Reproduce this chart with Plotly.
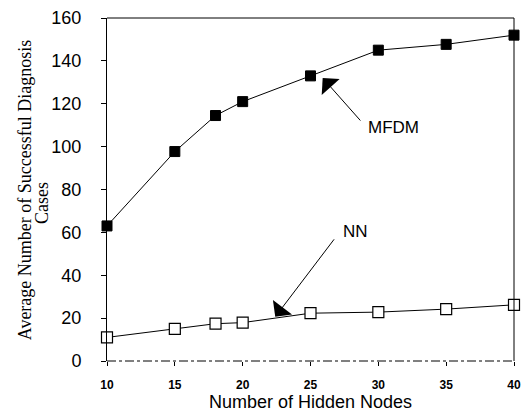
import plotly.graph_objects as go

hidden_nodes = [10, 15, 18, 20, 25, 30, 35, 40]
mfdm = [63, 97.7, 114.5, 121, 133, 145, 147.7, 152]
nn = [11, 15, 17.4, 17.9, 22.3, 22.8, 24.2, 26.2]
x_ticks = [10, 15, 20, 25, 30, 35, 40]
y_ticks = [0, 20, 40, 60, 80, 100, 120, 140, 160]

fig = go.Figure()
fig.add_trace(go.Scatter(
    x=hidden_nodes, y=mfdm, mode="lines+markers", name="MFDM",
    line=dict(color="black", width=1),
    marker=dict(symbol="square", size=10, color="black", line=dict(color="black", width=1)),
    cliponaxis=False,
))
fig.add_trace(go.Scatter(
    x=hidden_nodes, y=nn, mode="lines+markers", name="NN",
    line=dict(color="black", width=1),
    marker=dict(symbol="square", size=11, color="white", line=dict(color="black", width=1.2)),
    cliponaxis=False,
))

fig.update_layout(
    width=523, height=420, autosize=False,
    margin=dict(l=107, r=9, t=18, b=59),
    paper_bgcolor="white", plot_bgcolor="white",
    showlegend=False,
    font=dict(family="Liberation Sans, Arial", color="black"),
    xaxis=dict(
        range=[10, 40], tickvals=x_ticks, ticktext=[str(v) for v in x_ticks],
        automargin=False,
        showgrid=False, zeroline=False, showline=False,
        ticks="outside", ticklen=4, tickcolor="black", ticklabelstandoff=9,
        tickfont=dict(size=12, family="Liberation Sans, Arial", weight="bold"),
        title=dict(text="Number of Hidden Nodes", font=dict(size=18), standoff=0),
    ),
    yaxis=dict(
        range=[0, 160], tickvals=y_ticks, automargin=False,
        showgrid=False, zeroline=False, showline=True, linecolor="black", linewidth=1,
        ticks="outside", ticklen=5, tickcolor="black", ticklabelstandoff=16,
        tickfont=dict(size=18),
    ),
    shapes=[
        dict(type="line", xref="paper", yref="paper", x0=0, x1=1, y0=1, y1=1,
             line=dict(color="black", width=1)),
        dict(type="line", xref="paper", yref="paper", x0=1, x1=1, y0=0, y1=1,
             line=dict(color="black", width=1)),
        dict(type="line", xref="paper", yref="paper", x0=0, x1=1, y0=0, y1=0,
             line=dict(color="black", width=1, dash="dashdot")),
    ],
    annotations=[
        dict(text="Average Number of Successful Diagnosis", xref="paper", yref="paper",
             x=-0.202, y=0.5, xanchor="center", yanchor="middle", textangle=-90,
             showarrow=False, font=dict(family="Liberation Serif, Times New Roman", size=18)),
        dict(text="Cases", xref="paper", yref="paper",
             x=-0.158, y=0.46, xanchor="center", yanchor="middle", textangle=-90,
             showarrow=False, font=dict(family="Liberation Serif, Times New Roman", size=18)),
        dict(text="", x=25.9, y=132, xref="x", yref="y", ax=39, ay=44,
             showarrow=True, arrowhead=1, arrowsize=4, arrowwidth=1, arrowcolor="black", standoff=0),
        dict(text="MFDM", x=31.1, y=109, xref="x", yref="y", showarrow=False,
             font=dict(size=17)),
        dict(text="", x=22.4, y=20.6, xref="x", yref="y", ax=60, ay=-79,
             showarrow=True, arrowhead=1, arrowsize=4, arrowwidth=1, arrowcolor="black", standoff=0),
        dict(text="NN", x=28.3, y=60.3, xref="x", yref="y", showarrow=False,
             font=dict(size=17)),
    ],
)

fig.write_html(
    "out.html",
    config={"displayModeBar": False, "responsive": False},
    post_script=(
        "document.documentElement.style.margin='0';"
        "document.documentElement.style.overflow='hidden';"
        "document.body.style.margin='0';"
        "document.body.style.overflow='hidden';"
    ),
)
